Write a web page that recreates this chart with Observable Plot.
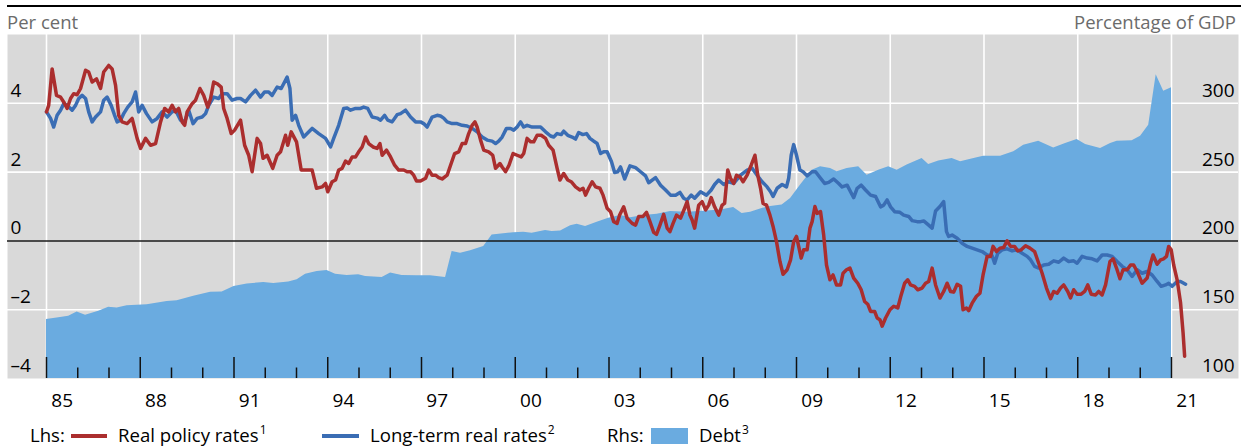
<!DOCTYPE html>
<html><head><meta charset="utf-8">
<script src="https://cdn.jsdelivr.net/npm/d3@7"></script>
<script src="https://cdn.jsdelivr.net/npm/@observablehq/plot@0.6"></script>
<style>
body{margin:0;background:#fff;font-family:'Open Sans',sans-serif;}
#wrap{position:relative;width:1244px;height:448px;overflow:hidden;}
#chart{position:absolute;left:0;top:0;}
.topline{position:absolute;left:7px;top:5px;width:1234px;height:2px;background:#000;}
.ttl{position:absolute;top:9px;font-size:18.5px;color:#6b6b6b;line-height:26px;white-space:nowrap;}
.leg{position:absolute;top:423px;height:24px;line-height:24px;font-size:18.6px;color:#000;white-space:nowrap;}
.leg sup{font-size:12px;line-height:0;vertical-align:baseline;position:relative;top:-8px;margin-left:1px;}
.sw{position:absolute;}
</style></head>
<body><div id="wrap">
<div id="chart"></div>
<div class="topline"></div>
<div class="ttl" style="left:7px">Per cent</div>
<div class="ttl" style="right:8px">Percentage of GDP</div>
</div>
<script>
// ---- data ----
const policyRate = [[1985.00,3.75],[1985.07,3.94],[1985.18,5.0],[1985.32,4.23],[1985.45,4.18],[1985.55,4.04],[1985.66,3.85],[1985.77,4.14],[1985.87,4.28],[1985.98,4.25],[1986.09,4.43],[1986.25,4.96],[1986.35,4.91],[1986.46,4.62],[1986.60,4.71],[1986.73,4.43],[1986.83,4.91],[1986.99,5.10],[1987.10,5.0],[1987.21,4.52],[1987.31,3.65],[1987.42,3.46],[1987.58,3.41],[1987.74,3.56],[1987.90,2.98],[1988.01,2.69],[1988.17,2.98],[1988.33,2.78],[1988.49,2.83],[1988.65,3.46],[1988.78,3.85],[1988.91,3.75],[1989.02,3.94],[1989.13,3.75],[1989.23,3.85],[1989.34,3.46],[1989.42,3.36],[1989.50,3.75],[1989.66,3.99],[1989.77,4.09],[1989.91,4.43],[1990.03,4.23],[1990.16,3.89],[1990.25,4.14],[1990.35,4.62],[1990.46,4.57],[1990.59,4.47],[1990.67,3.85],[1990.78,3.56],[1990.91,3.12],[1991.02,3.22],[1991.21,3.51],[1991.34,2.78],[1991.47,2.49],[1991.58,2.01],[1991.74,2.98],[1991.85,2.83],[1991.93,2.40],[1992.06,2.49],[1992.24,2.11],[1992.38,2.49],[1992.49,2.59],[1992.65,3.07],[1992.72,2.78],[1992.83,3.17],[1993.00,2.88],[1993.15,2.06],[1993.34,2.06],[1993.50,2.06],[1993.64,1.53],[1993.82,1.57],[1993.93,1.67],[1994.00,1.43],[1994.14,1.72],
[1994.25,1.77],[1994.35,2.06],[1994.46,2.11],[1994.57,2.32],[1994.67,2.25],[1994.78,2.44],[1994.89,2.44],[1994.99,2.59],[1995.10,2.73],[1995.21,3.02],[1995.31,2.83],[1995.45,2.73],[1995.58,2.69],[1995.67,2.83],[1995.74,2.49],[1995.88,2.64],[1996.01,2.44],[1996.14,2.20],[1996.27,2.06],[1996.43,2.06],[1996.54,2.01],[1996.65,2.01],[1996.75,1.91],[1996.84,1.74],[1996.97,1.74],[1997.13,1.82],[1997.23,2.06],[1997.34,1.91],[1997.45,1.91],[1997.55,1.84],[1997.66,1.80],[1997.82,1.91],[1997.93,2.20],[1998.06,2.54],[1998.19,2.59],[1998.30,2.83],[1998.41,2.83],[1998.51,3.12],[1998.62,3.36],[1998.71,3.46],[1998.78,3.31],[1998.89,2.93],[1998.99,2.64],[1999.15,2.59],[1999.28,2.49],[1999.37,2.11],[1999.51,2.25],[1999.58,2.15],[1999.69,2.01],[1999.80,2.20],[1999.93,2.54],[2000.06,2.49],[2000.19,2.44],[2000.27,2.54],[2000.38,2.98],[2000.49,2.88],[2000.59,2.88],[2000.70,3.07],[2000.83,3.07],[2000.97,2.98],[2001.07,2.78],[2001.21,2.64],[2001.34,2.11],[2001.43,1.77],[2001.55,1.96],[2001.68,1.77],[2001.79,1.72],[2001.93,1.57],[2002.07,1.48],[2002.17,1.53],[2002.25,1.33],[2002.35,1.53],[2002.46,1.72],[2002.57,1.57],[2002.71,1.53],[2002.81,1.33],[2002.94,0.95],[2003.05,0.85],[2003.15,0.56],[2003.26,0.51],[2003.34,0.75],
[2003.47,0.99],[2003.58,0.66],[2003.74,0.51],[2003.85,0.46],[2003.95,0.71],[2004.09,0.71],[2004.20,0.83],[2004.31,0.56],[2004.43,0.25],[2004.52,0.19],[2004.63,0.46],[2004.75,0.77],[2004.86,0.37],[2004.95,0.27],[2005.05,0.51],[2005.16,0.75],[2005.29,0.66],[2005.42,0.95],[2005.50,1.14],[2005.59,0.75],[2005.66,0.61],[2005.74,0.37],[2005.87,1.04],[2005.98,1.14],[2006.09,0.90],[2006.19,1.04],[2006.27,1.26],[2006.38,0.99],[2006.51,0.75],[2006.62,1.04],[2006.70,1.09],[2006.80,2.06],[2006.89,1.82],[2006.99,1.67],[2007.08,1.91],[2007.19,1.86],[2007.29,1.72],[2007.42,1.91],[2007.55,2.20],[2007.67,2.49],[2007.76,1.91],[2007.85,1.53],[2007.93,1.09],[2008.04,1.04],[2008.15,0.75],[2008.25,0.42],[2008.36,-0.02],[2008.47,-0.60],[2008.57,-0.97],[2008.70,-0.84],[2008.81,-0.55],[2008.91,-0.02],[2009.00,0.13],[2009.07,-0.16],[2009.15,-0.50],[2009.23,-0.26],[2009.34,-0.26],[2009.43,0.37],[2009.50,0.56],[2009.59,1.00],[2009.66,0.80],[2009.77,0.85],[2009.87,0.17],[2009.96,-0.70],[2010.07,-1.13],[2010.17,-0.99],[2010.28,-1.28],[2010.41,-1.28],[2010.49,-0.94],[2010.60,-0.84],[2010.71,-0.79],[2010.83,-1.08],[2010.96,-1.23],[2011.07,-1.42],[2011.18,-1.76],[2011.28,-1.84],[2011.37,-2.05],[2011.50,-2.05],[2011.58,-2.24],[2011.67,-2.29],[2011.74,-2.48],[2011.85,-2.24],[2011.99,-2.00],[2012.11,-1.90],[2012.24,-1.95],[2012.35,-1.57],[2012.46,-1.23],[2012.56,-1.13],[2012.65,-1.28],[2012.78,-1.32],[2012.88,-1.42],
[2013.02,-1.37],[2013.13,-1.23],[2013.23,-1.18],[2013.34,-0.79],[2013.45,-1.28],[2013.59,-1.66],[2013.71,-1.47],[2013.82,-1.23],[2013.93,-1.47],[2014.03,-1.49],[2014.14,-1.26],[2014.25,-1.32],[2014.33,-2.00],[2014.44,-1.95],[2014.51,-2.03],[2014.62,-1.81],[2014.76,-1.61],[2014.87,-1.52],[2014.97,-0.99],[2015.10,-0.45],[2015.21,-0.45],[2015.29,-0.16],[2015.40,-0.31],[2015.51,-0.21],[2015.63,-0.19],[2015.74,0.00],[2015.85,-0.16],[2015.98,-0.16],[2016.08,-0.29],[2016.19,-0.26],[2016.33,-0.14],[2016.47,-0.21],[2016.62,-0.31],[2016.75,-0.65],[2016.86,-0.94],[2017.00,-1.37],[2017.13,-1.68],[2017.23,-1.47],[2017.34,-1.52],[2017.45,-1.37],[2017.55,-1.28],[2017.68,-1.47],[2017.77,-1.66],[2017.87,-1.42],[2017.98,-1.55],[2018.11,-1.55],[2018.22,-1.47],[2018.32,-1.28],[2018.43,-1.55],[2018.57,-1.57],[2018.67,-1.47],[2018.78,-1.57],[2018.89,-1.28],[2019.03,-0.60],[2019.13,-0.52],[2019.24,-0.79],[2019.35,-1.10],[2019.45,-0.84],[2019.58,-0.84],[2019.69,-0.70],[2019.79,-0.70],[2019.90,-0.89],[2020.06,-1.23],[2020.22,-1.08],[2020.33,-0.65],[2020.41,-0.41],[2020.54,-0.68],[2020.65,-0.55],[2020.75,-0.52],[2020.84,-0.45],[2020.91,-0.16],[2020.99,-0.26],[2021.07,-0.70],[2021.18,-1.13],[2021.29,-1.80],[2021.37,-2.67],[2021.42,-3.35]];

const longTermRate = [[1985.00,3.75],[1985.13,3.56],[1985.23,3.31],[1985.34,3.65],[1985.45,3.80],[1985.55,3.99],[1985.66,3.94],[1985.82,3.80],[1985.93,3.94],[1986.03,4.14],[1986.14,4.23],[1986.25,4.14],[1986.35,3.75],[1986.46,3.46],[1986.57,3.60],[1986.73,3.75],[1986.83,4.09],[1986.94,4.18],[1987.07,3.94],[1987.18,3.65],[1987.26,3.46],[1987.37,3.51],[1987.47,3.70],[1987.60,3.89],[1987.74,4.04],[1987.85,4.33],[1987.95,3.75],[1988.06,3.94],[1988.20,3.70],[1988.38,3.46],[1988.54,3.56],[1988.70,3.75],[1988.86,3.60],[1989.02,3.75],[1989.13,3.80],[1989.29,3.51],[1989.42,3.46],[1989.55,3.80],[1989.69,3.41],[1989.82,3.56],[1989.98,3.60],[1990.09,3.70],[1990.19,3.94],[1990.35,4.18],[1990.51,4.14],[1990.62,4.28],[1990.78,4.28],[1990.94,4.09],[1991.10,4.14],[1991.21,4.14],[1991.37,4.04],[1991.53,4.23],[1991.69,4.38],[1991.85,4.18],[1991.98,4.33],[1992.11,4.33],[1992.22,4.23],[1992.38,4.47],[1992.51,4.43],[1992.70,4.76],[1992.79,4.43],[1992.86,3.51],[1992.97,3.65],[1993.07,3.36],[1993.23,3.02],[1993.34,3.12],[1993.50,3.27],[1993.71,3.12],[1993.93,2.98],[1994.09,2.73],
[1994.19,2.98],[1994.35,3.36],[1994.51,3.85],[1994.62,3.86],[1994.73,3.80],[1994.89,3.85],[1995.05,3.85],[1995.15,3.89],[1995.28,3.85],[1995.42,3.60],[1995.58,3.57],[1995.69,3.51],[1995.82,3.65],[1995.92,3.51],[1996.06,3.46],[1996.22,3.67],[1996.33,3.70],[1996.49,3.80],[1996.65,3.60],[1996.81,3.46],[1996.97,3.46],[1997.07,3.41],[1997.18,3.31],[1997.34,3.60],[1997.50,3.65],[1997.61,3.63],[1997.71,3.57],[1997.82,3.46],[1997.98,3.41],[1998.14,3.41],[1998.30,3.36],[1998.46,3.34],[1998.62,3.27],[1998.78,3.17],[1998.94,3.02],[1999.10,2.93],[1999.26,2.90],[1999.37,2.83],[1999.47,2.90],[1999.58,3.02],[1999.72,3.27],[1999.85,3.27],[1999.95,3.22],[2000.06,3.31],[2000.17,3.46],[2000.27,3.31],[2000.38,3.36],[2000.54,3.31],[2000.70,3.31],[2000.81,3.31],[2000.97,3.17],[2001.13,3.05],[2001.23,3.02],[2001.34,3.12],[2001.47,3.09],[2001.55,3.19],[2001.68,3.07],[2001.82,3.02],[2001.93,2.96],[2002.03,3.15],[2002.16,3.09],[2002.28,3.12],[2002.39,2.98],[2002.51,2.90],[2002.62,2.83],[2002.73,2.54],[2002.83,2.59],[2002.94,2.59],[2003.08,2.30],[2003.18,1.99],[2003.28,2.01],[2003.37,2.15],
[2003.50,1.80],[2003.67,2.18],[2003.85,2.13],[2004.01,2.01],[2004.17,1.89],[2004.27,1.69],[2004.49,1.84],[2004.65,1.62],[2004.81,1.48],[2004.97,1.33],[2005.13,1.33],[2005.27,1.41],[2005.39,1.24],[2005.50,1.19],[2005.63,1.33],[2005.74,1.24],[2005.93,1.43],[2006.12,1.33],[2006.27,1.48],[2006.38,1.64],[2006.51,1.77],[2006.67,1.64],[2006.83,1.72],[2006.99,1.67],[2007.21,1.91],[2007.42,2.06],[2007.58,2.11],[2007.74,1.91],[2007.90,1.72],[2008.06,1.57],[2008.17,1.43],[2008.25,1.29],[2008.38,1.53],[2008.54,1.64],[2008.68,1.57],[2008.75,1.82],[2008.83,2.49],[2008.91,2.80],[2009.00,2.49],[2009.11,2.06],[2009.21,2.01],[2009.34,1.89],[2009.50,2.01],[2009.61,2.01],[2009.77,1.82],[2009.90,1.67],[2010.03,1.70],[2010.19,1.80],[2010.35,1.67],[2010.46,1.57],[2010.62,1.62],[2010.73,1.43],[2010.83,1.26],[2010.94,1.53],[2011.07,1.62],[2011.21,1.48],[2011.37,1.33],[2011.53,1.29],[2011.69,0.99],[2011.79,1.04],[2011.90,1.19],[2012.01,0.99],[2012.14,0.85],[2012.31,0.83],[2012.43,0.75],[2012.59,0.71],[2012.70,0.59],[2012.86,0.56],
[2012.97,0.56],[2013.07,0.58],[2013.23,0.46],[2013.34,0.37],[2013.45,0.87],[2013.59,1.00],[2013.71,1.14],[2013.80,0.27],[2013.87,0.13],[2013.98,0.17],[2014.14,0.08],[2014.30,-0.07],[2014.46,-0.16],[2014.62,-0.21],[2014.78,-0.26],[2014.94,-0.31],[2015.10,-0.41],[2015.26,-0.43],[2015.34,-0.65],[2015.44,-0.36],[2015.58,-0.26],[2015.74,-0.23],[2015.90,-0.29],[2016.06,-0.26],[2016.22,-0.36],[2016.38,-0.45],[2016.49,-0.55],[2016.62,-0.74],[2016.75,-0.79],[2016.91,-0.70],[2017.07,-0.68],[2017.23,-0.58],[2017.39,-0.62],[2017.55,-0.50],[2017.71,-0.60],[2017.87,-0.58],[2017.98,-0.65],[2018.14,-0.45],[2018.30,-0.50],[2018.46,-0.52],[2018.62,-0.58],[2018.78,-0.41],[2018.94,-0.41],[2019.10,-0.45],[2019.26,-0.60],[2019.42,-0.74],[2019.58,-0.84],[2019.74,-1.03],[2019.90,-0.84],[2020.06,-0.94],[2020.22,-0.89],[2020.38,-0.99],[2020.54,-1.18],[2020.67,-1.32],[2020.81,-1.28],[2020.91,-1.23],[2021.02,-1.32],[2021.18,-1.18],[2021.29,-1.18],[2021.45,-1.26]];

const debt = [[1985.00,142.8],[1985.34,144.0],[1985.71,145.2],[1985.98,148.3],[1986.25,145.9],[1986.67,148.8],[1986.99,151.7],[1987.26,151.2],[1987.58,152.9],[1988.22,153.6],[1988.86,156.0],[1989.18,156.5],[1989.71,159.7],[1990.25,162.6],[1990.62,162.8],[1991.00,166.9],[1991.42,168.6],[1991.95,169.8],[1992.27,169.1],[1992.75,170.1],[1993.02,171.7],[1993.29,175.8],[1993.66,177.8],[1993.98,178.5],[1994.25,175.8],[1994.62,174.9],[1994.99,175.4],[1995.21,174.2],[1995.74,173.4],[1996.01,176.6],[1996.38,174.9],[1996.86,174.6],[1997.29,174.6],[1997.77,173.4],[1997.98,192.3],[1998.25,191.1],[1998.57,192.8],[1998.99,195.9],[1999.26,204.3],[1999.95,206.0],[2000.27,206.3],[2000.54,205.6],[2000.97,207.5],[2001.18,206.8],[2001.45,207.2],[2001.77,211.1],[2001.98,212.1],[2002.25,210.4],[2002.62,213.5],[2002.99,216.4],[2003.37,218.4],[2003.69,216.9],[2004.11,218.4],[2004.54,219.3],[2004.97,221.3],[2005.50,220.8],[2006.14,221.7],[2006.57,222.5],[2006.99,224.2],[2007.26,220.0],[2007.53,220.8],[2007.85,223.2],[2008.11,224.9],[2008.54,226.1],[2008.81,230.9],[2009.13,240.6],[2009.50,251.4],[2009.77,253.9],[2010.09,252.6],[2010.30,250.2],[2010.62,252.6],[2010.99,253.9],[2011.26,247.8],[2011.63,251.4],[2011.95,253.9],[2012.22,251.4],[2012.54,255.1],[2012.65,256.3],[2013.02,259.9],[2013.23,255.5],[2013.55,258.0],[2013.98,259.9],[2014.25,257.5],[2014.78,260.4],[2014.99,261.6],[2015.53,261.6],[2015.95,264.7],[2016.27,269.6],[2016.75,272.5],[2017.23,267.6],[2017.61,270.8],[2017.98,273.7],[2018.25,270.1],[2018.73,267.1],[2019.05,270.8],[2019.26,272.5],[2019.74,272.7],[2020.01,276.1],[2020.27,284.0],[2020.51,320.8],[2020.75,308.7],[2021.00,311.3]];

const majorYears = [1985,1988,1991,1994,1997,2000,2003,2006,2009,2012,2015,2018,2021];
const xTickLabels = ["85","88","91","94","97","00","03","06","09","12","15","18","21"];
const minorYears = [1986,1987,1989,1990,1992,1993,1995,1996,1998,1999,2001,2002,2004,2005,2007,2008,2010,2011,2013,2014,2016,2017,2019,2020];
const leftTicks = [-4,-2,0,2,4];
const leftTickLabels = ["–4","–2","0","2","4"];
const rightTicks = [100,150,200,250,300];
const gridY = [-2,2,4];

// ---- chart ----
const FONT = "'Open Sans', sans-serif";
const C = {bg:"#d9d9d9", area:"#6aabe0", red:"#ab2e2e", blue:"#3a6db4"};
const toLeft = v => (v - 200) / 25;   // right axis (per cent of GDP) -> left axis units
const pxPerUnit = 344 / 10;

const chart = Plot.plot({
  width: 1244, height: 412,
  marginTop: 34, marginBottom: 34, marginLeft: 7, marginRight: 6,
  x: {type: "linear", domain: [1983.752, 2023.144], axis: null},
  y: {domain: [-4, 6], axis: null},
  style: {fontFamily: FONT, background: "transparent", overflow: "visible"},
  marks: [
    Plot.frame({fill: C.bg, stroke: null}),
    Plot.ruleX(majorYears, {x: d => d, stroke: "#fff", strokeWidth: 1.6}),
    Plot.ruleY(gridY, {y: d => d, stroke: "#fff", strokeWidth: 1.6}),
    Plot.areaY(debt, {x: d => d[0], y1: -4, y2: d => toLeft(d[1]), fill: C.area, curve: "linear"}),
    Plot.ruleY([0], {y: d => d, stroke: "#1a1a1a", strokeWidth: 1.5}),
    Plot.ruleX(majorYears, {x: d => d, y1: -4, y2: -4 + 21 / pxPerUnit, stroke: "#111", strokeWidth: 1.5}),
    Plot.ruleX(minorYears, {x: d => d, y1: -4, y2: -4 + 10.5 / pxPerUnit, stroke: "#111", strokeWidth: 1.5}),
    Plot.line(longTermRate, {x: d => d[0], y: d => d[1], stroke: C.blue, strokeWidth: 3.5}),
    Plot.line(policyRate, {x: d => d[0], y: d => d[1], stroke: C.red, strokeWidth: 3.5}),
    Plot.text(leftTicks, {x: 1983.752, y: d => d, text: (d, i) => leftTickLabels[i], textAnchor: "start", dx: 3, dy: -12.5, fontSize: 19, fill: "#000"}),
    Plot.text(rightTicks, {x: 2023.144, y: d => toLeft(d), text: d => String(d), textAnchor: "end", dx: -4, dy: -12.5, fontSize: 19, fill: "#000"}),
    Plot.text(majorYears, {x: d => d + 0.5, y: -4, text: (d, i) => xTickLabels[i], dy: 22, fontSize: 19, fill: "#000"})
  ]
});
document.getElementById("chart").appendChild(chart);

// ---- legend ----
const legendItems = [
  {type: "text", left: 30, html: "Lhs:"},
  {type: "line", left: 71, width: 36, color: C.red},
  {type: "text", left: 118, html: "Real policy rates<sup>1</sup>"},
  {type: "line", left: 322, width: 37, color: C.blue},
  {type: "text", left: 370, html: "Long-term real rates<sup>2</sup>"},
  {type: "text", left: 607, html: "Rhs:"},
  {type: "box", left: 651, width: 37, color: C.area},
  {type: "text", left: 699, html: "Debt<sup>3</sup>"}
];
const wrap = document.getElementById("wrap");
for (const it of legendItems) {
  const el = document.createElement("div");
  if (it.type === "text") { el.className = "leg"; el.style.left = it.left + "px"; el.innerHTML = it.html; }
  else if (it.type === "line") { el.className = "sw"; Object.assign(el.style, {left: it.left + "px", top: "434px", width: it.width + "px", height: "4px", background: it.color}); }
  else { el.className = "sw"; Object.assign(el.style, {left: it.left + "px", top: "428px", width: it.width + "px", height: "16px", background: it.color}); }
  wrap.appendChild(el);
}
</script>
</body></html>
